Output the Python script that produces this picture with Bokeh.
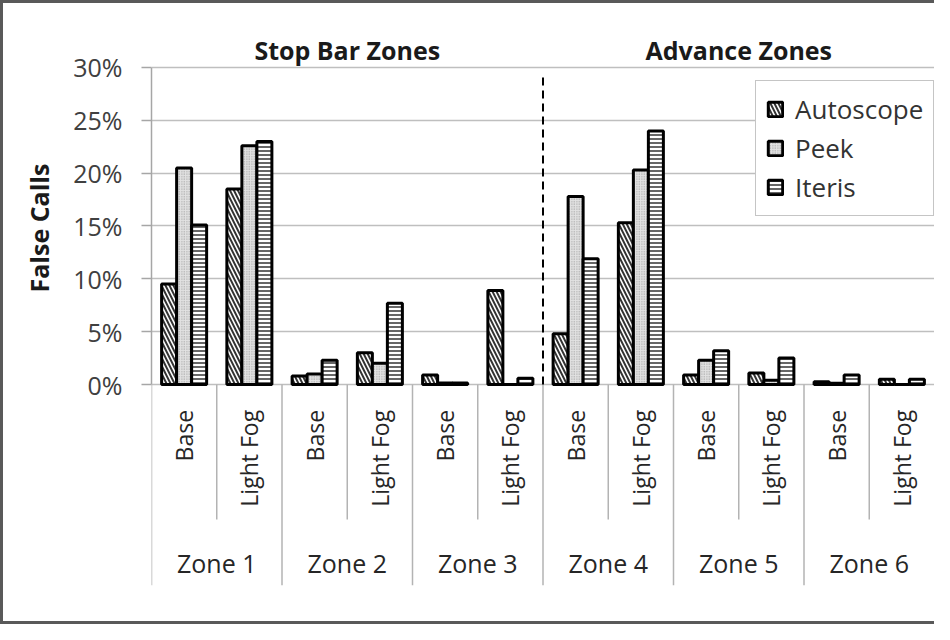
from math import pi

from bokeh.core.properties import value
from bokeh.embed import file_html
from bokeh.models import (ColumnDataSource, FactorRange, FixedTicker, LabelSet,
                          Label, Legend, LegendItem, PrintfTickFormatter, Range1d, Title)
from bokeh.plotting import figure
from bokeh.resources import INLINE
from bokeh.transform import dodge

# ---------------- data ----------------
zones = ["Zone 1", "Zone 2", "Zone 3", "Zone 4", "Zone 5", "Zone 6"]
conditions = ["Base", "Light Fog"]
regions = ["Stop Bar Zones", "Advance Zones"]
region_zones = [["Zone 1", "Zone 2", "Zone 3"], ["Zone 4", "Zone 5", "Zone 6"]]
systems = ["Autoscope", "Peek", "Iteris"]

# false-call rate (%), ordered Zone 1 Base, Zone 1 Light Fog, Zone 2 Base, ...
autoscope = [9.5, 18.5, 0.8, 3.0, 0.9, 8.9, 4.8, 15.3, 0.9, 1.1, 0.25, 0.5]
peek = [20.5, 22.6, 1.0, 2.0, 0.15, 0.0, 17.8, 20.3, 2.3, 0.4, 0.12, 0.0]
iteris = [15.1, 23.0, 2.3, 7.7, 0.15, 0.6, 11.9, 24.0, 3.2, 2.5, 0.9, 0.5]

y_ticks = [0, 5, 10, 15, 20, 25, 30]
y_label = "False Calls"

# ---------------- styles ----------------
FONT = value("Open Sans")
Y_BOTTOM = -19.02          # bottom of the category-label strip (data units)
Y_TOP = 33.5               # room for the region titles
SUB_DIV_BOTTOM = -12.78
DASH_TOP = 29.5
SUB_LABEL_Y = -2.4
ZONE_LABEL_Y = -16.85
REGION_LABEL_Y = 31.7
BAR_W = 0.23
YLABEL_OFFSET = 293        # px from frame bottom to start of the y label

factors = [(z, c) for z in zones for c in conditions]
src = ColumnDataSource(dict(x=factors, Autoscope=autoscope, Peek=peek, Iteris=iteris))

p = figure(
    x_range=FactorRange(*factors, factor_padding=0, group_padding=0,
                        subgroup_padding=0, range_padding=0),
    y_range=Range1d(Y_BOTTOM, Y_TOP),
    width=934, height=624, output_backend="svg", toolbar_location=None,
    x_axis_location=None,
    min_border_left=151, min_border_right=0, min_border_top=30, min_border_bottom=39,
)
p.border_fill_color = None
p.outline_line_color = None
p.styles = {"box-shadow": "inset 3px 0 0 #595959, inset 0 3px 0 #595959, inset 0 -3px 0 #595959"}

# grid + y axis
p.xgrid.visible = False
p.ygrid.ticker = FixedTicker(ticks=y_ticks)
p.ygrid.grid_line_color = "#bfbfbf"
p.ygrid.grid_line_width = 1.5
ax = p.yaxis[0]
ax.bounds = (min(y_ticks), max(y_ticks))
ax.ticker = FixedTicker(ticks=y_ticks)
ax.formatter = PrintfTickFormatter(format="%d%%")
ax.major_label_text_font = "Open Sans"
ax.major_label_text_font_size = "25px"
ax.major_label_text_color = "#404040"
ax.major_label_standoff = 19
ax.axis_line_color = "#a6a6a6"
ax.axis_line_width = 1.5
ax.major_tick_line_color = "#a6a6a6"
ax.major_tick_line_width = 1.5
ax.major_tick_out = 10
ax.major_tick_in = 0
ax.minor_tick_out = 0
ax.minor_tick_in = 0

# y label as a left-side title, positioned along the 0-30% span
ytitle = Title(text=y_label, align="left", offset=YLABEL_OFFSET,
               text_font="Open Sans", text_font_size="25px", text_font_style="bold",
               text_color="#1a1a1a")
if "standoff" in Title.properties():
    ytitle.standoff = 30
p.add_layout(ytitle, "left")

# bars
styles = {
    "Autoscope": dict(fill_color="white", hatch_pattern="\\", hatch_color="#333333",
                      hatch_scale=8, hatch_weight=2.0),
    "Peek": dict(fill_color="#e2e2e2", hatch_pattern=".", hatch_color="#959595",
                 hatch_scale=2.5, hatch_weight=1.0),
    "Iteris": dict(fill_color="white", hatch_pattern="-", hatch_color="#555555",
                   hatch_scale=4, hatch_weight=1.8),
}
offsets = [-BAR_W, 0, BAR_W]
renderers = {}
for sysname, off in zip(systems, offsets):
    renderers[sysname] = p.vbar(x=dodge("x", off, range=p.x_range), top=sysname, bottom=0,
                                width=BAR_W, source=src, line_color="black",
                                line_width=3, **styles[sysname])

# category separators in the label strip
sub_div = ColumnDataSource(dict(
    x=[(z, conditions[0], 0.5) for z in zones],
    y0=[0] * len(zones), y1=[SUB_DIV_BOTTOM] * len(zones)))
p.segment(x0="x", x1="x", y0="y0", y1="y1", source=sub_div,
          line_color="#b3b3b3", line_width=1.5)
zone_edges = [(zones[0], conditions[0], -0.5)] + [(z, conditions[-1], 0.5) for z in zones[:-1]]
zone_div = ColumnDataSource(dict(
    x=zone_edges, y0=[0] * len(zone_edges), y1=[Y_BOTTOM] * len(zone_edges)))
p.segment(x0="x", x1="x", y0="y0", y1="y1", source=zone_div,
          line_color="#b3b3b3", line_width=1.5)

# dashed divider between regions
last_stop = region_zones[0][-1]
dash_src = ColumnDataSource(dict(x=[(last_stop, conditions[-1], 0.5)], y0=[0], y1=[DASH_TOP]))
p.segment(x0="x", x1="x", y0="y0", y1="y1", source=dash_src,
          line_color="black", line_width=2, line_dash="8 5")

# sub-category labels
sub_lbl = ColumnDataSource(dict(x=factors, y=[SUB_LABEL_Y] * len(factors),
                                text=[c for _, c in factors]))
p.add_layout(LabelSet(x="x", y="y", text="text", source=sub_lbl, angle=pi / 2,
                      text_align="right", text_baseline="middle", text_font=FONT,
                      text_font_size="23px", text_color="#262626"))
zone_lbl = ColumnDataSource(dict(x=[(z, conditions[0], 0.5) for z in zones],
                                 y=[ZONE_LABEL_Y] * len(zones), text=zones))
p.add_layout(LabelSet(x="x", y="y", text="text", source=zone_lbl,
                      text_align="center", text_baseline="middle", text_font=FONT,
                      text_font_size="25px", text_color="#262626"))

# region titles, centred over their zones (synthetic categorical coordinates)
n_sub = len(conditions)
start = 0
for reg, rz in zip(regions, region_zones):
    centre = start + len(rz) * n_sub / 2
    start += len(rz) * n_sub
    p.add_layout(Label(x=centre, y=REGION_LABEL_Y, text=reg,
                       text_align="center", text_baseline="middle", text_font="Open Sans",
                       text_font_size="25px", text_font_style="bold", text_color="#1a1a1a"))

legend = Legend(items=[LegendItem(label=s, renderers=[renderers[s]]) for s in systems],
                location=(604, 369))
legend.label_text_font = "Open Sans"
legend.label_text_font_size = "26px"
legend.label_text_color = "#333333"
legend.glyph_width = 18
legend.glyph_height = 18
legend.label_height = 30
legend.spacing = 3
legend.padding = 10
legend.label_standoff = 11
legend.border_line_color = "#8c8c8c"
legend.border_line_width = 1.5
legend.background_fill_color = "white"
legend.background_fill_alpha = 1
p.add_layout(legend, "center")

open("out.html", "w").write(file_html(p, INLINE))
